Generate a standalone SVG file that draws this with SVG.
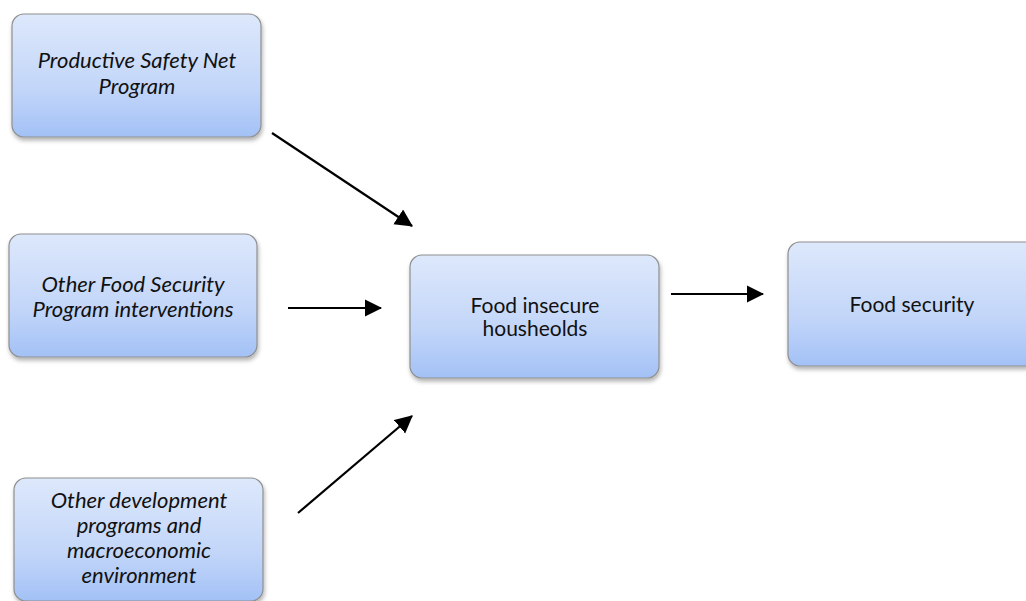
<svg xmlns="http://www.w3.org/2000/svg" width="1026" height="601" viewBox="0 0 1026 601">
<style>
.box{fill:url(#g);stroke:#8f8f8f;stroke-width:1.2;filter:url(#sh)}
.t{font-family:Lato,"Open Sans","Liberation Sans",sans-serif;font-size:21px;fill:#111;text-anchor:middle}
.i{font-style:italic;font-size:22px}
.c{stroke:#000;stroke-width:2.2;fill:none;marker-end:url(#ah)}
</style>
<defs>
<linearGradient id="g" x1="0" y1="0" x2="0" y2="1">
<stop offset="0" stop-color="#dde8fb"/>
<stop offset="0.6" stop-color="#c3d6f9"/>
<stop offset="1" stop-color="#a3c1f6"/>
</linearGradient>
<filter id="sh" x="-10%" y="-10%" width="125%" height="130%">
<feDropShadow dx="1" dy="3" stdDeviation="2" flood-color="#000" flood-opacity="0.3"/>
</filter>
<marker id="ah" markerWidth="9" markerHeight="9" refX="7.5" refY="4" orient="auto" markerUnits="strokeWidth">
<path d="M0,0 L8,4 L0,8 Z" fill="#000"/>
</marker>
</defs>
<rect width="1026" height="601" fill="#fff"/>
<g id="n1">
<rect class="box" x="12" y="14" width="249" height="123" rx="12"/>
<text class="t i" x="137" y="68">Productive Safety Net</text>
<text class="t i" x="137" y="94">Program</text>
</g>
<g id="n2">
<rect class="box" x="9" y="234" width="248" height="123" rx="12"/>
<text class="t i" x="133" y="292">Other Food Security</text>
<text class="t i" x="133" y="317">Program interventions</text>
</g>
<g id="n3">
<rect class="box" x="14" y="478" width="249" height="123" rx="12"/>
<text class="t i" x="139" y="508">Other development</text>
<text class="t i" x="139" y="533">programs and</text>
<text class="t i" x="139" y="558">macroeconomic</text>
<text class="t i" x="139" y="583">environment</text>
</g>
<g id="n4">
<rect class="box" x="410" y="255" width="249" height="123" rx="12"/>
<text class="t" x="535" y="313">Food insecure</text>
<text class="t" x="535" y="336">housheolds</text>
</g>
<g id="n5">
<rect class="box" x="788" y="242" width="250" height="124" rx="12"/>
<text class="t" x="912" y="312">Food security</text>
</g>
<g id="connectors">
<line class="c" x1="272" y1="133" x2="412" y2="226"/>
<line class="c" x1="288" y1="308" x2="381" y2="308"/>
<line class="c" x1="298" y1="513" x2="412" y2="416"/>
<line class="c" x1="671" y1="294" x2="763" y2="294"/>
</g>
</svg>
